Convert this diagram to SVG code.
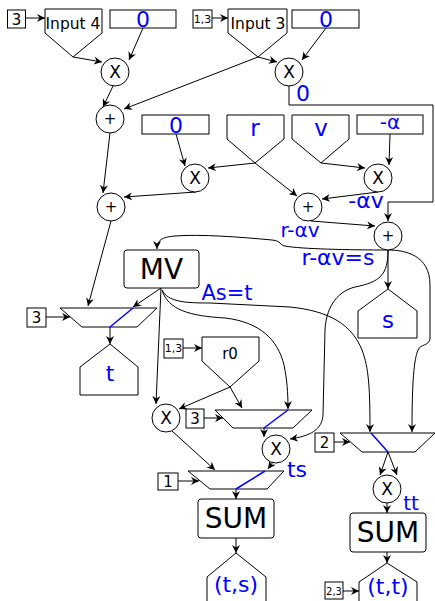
<svg xmlns="http://www.w3.org/2000/svg" width="435" height="601" viewBox="0 0 435 601">
<defs>
<marker id="ah" markerUnits="userSpaceOnUse" markerWidth="9" markerHeight="8" refX="8" refY="4" orient="auto">
<path d="M0,0 L8,4 L0,8 L2.5,4 Z" fill="#000"/>
</marker>
<style>
.s{fill:#fff;stroke:#000;stroke-width:1}
.c{fill:none;stroke:#000;stroke-width:1;marker-end:url(#ah)}
.bl{fill:none;stroke:#0000ff;stroke-width:1.5}
text{font-family:"DejaVu Sans",Verdana,sans-serif;text-anchor:middle}
.b{fill:#0000ff}
.k{fill:#000}
</style>
</defs>
<rect width="435" height="601" fill="#fff"/>

<g id="connectors">
<path class="c" d="M26,18 L45,18"/>
<path class="c" d="M212,18 L228,18"/>
<path class="c" d="M73,57 L102,62"/>
<path class="c" d="M143,28 L129,60"/>
<path class="c" d="M113,86 L103,107"/>
<path class="c" d="M258,57 L124,109"/>
<path class="c" d="M258,57 L277,62"/>
<path class="c" d="M326,28 L302,60"/>
<path class="c" d="M289,86 L289,105 L433,105 L433,202 L388,202 L388,221"/>
<path class="c" d="M176,134 L185,166"/>
<path class="c" d="M255,163 L208,168"/>
<path class="c" d="M255,163 L297,196"/>
<path class="c" d="M321,163 L365,168"/>
<path class="c" d="M390,134 L389,165"/>
<path class="c" d="M378,192 L322,199"/>
<path class="c" d="M110,133 L103,193"/>
<path class="c" d="M196,192 L124,197"/>
<path class="c" d="M311,221 L375,226"/>
<path class="c" d="M111,221 L88,306"/>
<path class="c" d="M161,288 L133,307"/>
<path class="c" d="M46,317 L70,317"/>
<path class="c" d="M110,327 L110,344"/>
<path class="c" d="M388,250 L388,289"/>
<path class="c" d="M388,250 C350,250 300,249 285,246 C279,245 282,241 272,240 C240,237 200,234 175,236 C162,237 157,240 157,249"/>
<path class="c" d="M388,250 C405,250 430,255 430,285 L430,338 C430,346 420,344 418,350 C414,360 412,380 412,432"/>
<path class="c" d="M388,250 C388,275 380,282 355,287 C335,292 326,310 325,330 L323,415 C322,430 310,436 290,439"/>
<path class="c" d="M162,290 C168,302 185,303 210,303 L290,307 C330,311 352,325 362,350 C369,368 370,390 370,432"/>
<path class="c" d="M162,290 C168,310 190,316 225,318 C260,322 278,340 284,365 C287,380 288,392 288,409"/>
<path class="c" d="M161,288 L156,404"/>
<path class="c" d="M183,348 L202,348"/>
<path class="c" d="M230,387 L179,409"/>
<path class="c" d="M230,387 L242,408"/>
<path class="c" d="M204,418 L223,418"/>
<path class="c" d="M264,428 L264,437"/>
<path class="c" d="M172,431 L215,470"/>
<path class="c" d="M273,462 L268,469"/>
<path class="c" d="M178,481 L199,481"/>
<path class="c" d="M236,489 L236,499"/>
<path class="c" d="M236,538 L236,553"/>
<path class="c" d="M334,442 L350,442"/>
<path class="c" d="M388,452 L380,475"/>
<path class="c" d="M388,452 L397,475"/>
<path class="c" d="M387,503 L387,513"/>
<path class="c" d="M387,552 L387,563"/>
<path class="c" d="M343,591 L359,591"/>
</g>

<g id="sel3a"><rect class="s" x="7.5" y="10" width="18" height="18"/><text class="k" x="16.5" y="25" font-size="15">3</text></g>
<g id="input4"><polygon class="s" points="45,9 102,9 102,33 73,57 45,33"/><text class="k" x="73" y="29" font-size="15.5">Input 4</text></g>
<g id="zero1"><rect class="s" x="110" y="10" width="66" height="18"/><text class="b" x="143" y="27" font-size="22">0</text></g>
<g id="sel13a"><rect class="s" x="193" y="10" width="19" height="18"/><text class="k" x="202.5" y="23" font-size="11">1,3</text></g>
<g id="input3"><polygon class="s" points="228,9 287,9 287,33 258,57 228,33"/><text class="k" x="258" y="29" font-size="15.5">Input 3</text></g>
<g id="zero2"><rect class="s" x="292" y="10" width="67" height="18"/><text class="b" x="326" y="27" font-size="22">0</text></g>

<g id="mul1"><circle class="s" cx="115" cy="72" r="14"/><text class="k" x="115" y="78" font-size="17">X</text></g>
<g id="mul2"><circle class="s" cx="289" cy="72" r="14"/><text class="k" x="289" y="78" font-size="17">X</text></g>
<g id="lbl0"><text class="b" x="303" y="101" font-size="22">0</text></g>
<g id="add1"><circle class="s" cx="110" cy="119" r="14"/><text class="k" x="110" y="124" font-size="15">+</text></g>

<g id="zero3"><rect class="s" x="142" y="115" width="67" height="19"/><text class="b" x="176" y="133" font-size="22">0</text></g>
<g id="rin"><polygon class="s" points="227,115 284,115 284,139 255,163 227,139"/><text class="b" x="255" y="136" font-size="23">r</text></g>
<g id="vin"><polygon class="s" points="292,115 349,115 349,139 321,163 292,139"/><text class="b" x="321" y="136" font-size="23">v</text></g>
<g id="alpha"><rect class="s" x="357" y="115" width="66" height="19"/><text class="b" x="390" y="129" font-size="20">-α</text></g>

<g id="mul3"><circle class="s" cx="195" cy="178" r="14"/><text class="k" x="195" y="184" font-size="17">X</text></g>
<g id="mul4"><circle class="s" cx="378" cy="178" r="14"/><text class="k" x="378" y="184" font-size="17">X</text></g>
<g id="add3"><circle class="s" cx="111" cy="207" r="14"/><text class="k" x="111" y="212" font-size="15">+</text></g>
<g id="add4"><circle class="s" cx="308" cy="207" r="14"/><text class="k" x="308" y="212" font-size="15">+</text></g>
<g id="add5"><circle class="s" cx="388" cy="236" r="14"/><text class="k" x="388" y="241" font-size="15">+</text></g>
<g id="lblav"><text class="b" x="366" y="208" font-size="22">-αv</text></g>
<g id="lblrav"><text class="b" x="300" y="237" font-size="20">r-αv</text></g>
<g id="lblravs"><text class="b" x="338" y="265" font-size="22">r-αv=s</text></g>

<g id="mv"><rect class="s" x="124" y="250" width="75" height="38" rx="3"/><text class="k" x="161.5" y="279" font-size="28">MV</text></g>
<g id="lblast"><text class="b" x="227" y="300" font-size="21">As=t</text></g>

<g id="sel3b"><rect class="s" x="27" y="308" width="19" height="19"/><text class="k" x="36.5" y="323" font-size="15">3</text></g>
<g id="mux1"><polygon class="s" points="60,308 157,308 137,327 82,327" stroke-linejoin="round"/><path class="bl" d="M133,308 L110,327"/></g>
<g id="tout"><polygon class="s" points="80,367 110,344 138,367 138,395 80,395"/><text class="b" x="110" y="381" font-size="22">t</text></g>
<g id="sout"><polygon class="s" points="358,311 388,289 417,311 417,338 358,338"/><text class="b" x="388" y="328" font-size="23">s</text></g>

<g id="sel13b"><rect class="s" x="164" y="339" width="19" height="19"/><text class="k" x="173.5" y="352" font-size="11">1,3</text></g>
<g id="r0"><polygon class="s" points="202,337 259,337 259,361 230,387 202,361"/><text class="k" x="230" y="359" font-size="15">r0</text></g>

<g id="mul5"><circle class="s" cx="166" cy="418" r="14"/><text class="k" x="166" y="424" font-size="17">X</text></g>
<g id="sel3c"><rect class="s" x="186" y="409" width="18" height="19"/><text class="k" x="195" y="424" font-size="15">3</text></g>
<g id="mux2"><polygon class="s" points="215,410 312,410 293,428 233,428" stroke-linejoin="round"/><path class="bl" d="M288,410 L264,428"/></g>
<g id="mul6"><circle class="s" cx="276" cy="449" r="14"/><text class="k" x="276" y="455" font-size="17">X</text></g>
<g id="lblts"><text class="b" x="297" y="477" font-size="22">ts</text></g>

<g id="sel1"><rect class="s" x="158" y="473" width="20" height="17"/><text class="k" x="168" y="487" font-size="15">1</text></g>
<g id="mux4"><polygon class="s" points="188,471 284,471 267,489 210,489" stroke-linejoin="round"/><path class="bl" d="M265,471 L236,489"/></g>
<g id="sum1"><rect class="s" x="198" y="499" width="76" height="39" rx="3"/><text class="k" x="236" y="528" font-size="28">SUM</text></g>
<g id="tsout"><polygon class="s" points="207,577 236,553 266,577 266,606 207,606"/><text class="b" x="236" y="592" font-size="22">(t,s)</text></g>

<g id="sel2"><rect class="s" x="315" y="433" width="19" height="19"/><text class="k" x="324.5" y="448" font-size="15">2</text></g>
<g id="mux3"><polygon class="s" points="340,433 435,433 415,452 362,452" stroke-linejoin="round"/><path class="bl" d="M371,433 L388,452"/></g>
<g id="mul7"><circle class="s" cx="387" cy="489" r="14"/><text class="k" x="387" y="495" font-size="17">X</text></g>
<g id="lbltt"><text class="b" x="411" y="510" font-size="20">tt</text></g>
<g id="sum2"><rect class="s" x="350" y="513" width="76" height="39" rx="3"/><text class="k" x="388" y="542" font-size="28">SUM</text></g>
<g id="ttout"><polygon class="s" points="359,582 387,563 417,582 417,610 359,610"/><text class="b" x="388" y="594" font-size="22">(t,t)</text></g>
<g id="sel23"><rect class="s" x="325" y="582" width="18" height="17"/><text class="k" x="334" y="595" font-size="10">2,3</text></g>
</svg>
